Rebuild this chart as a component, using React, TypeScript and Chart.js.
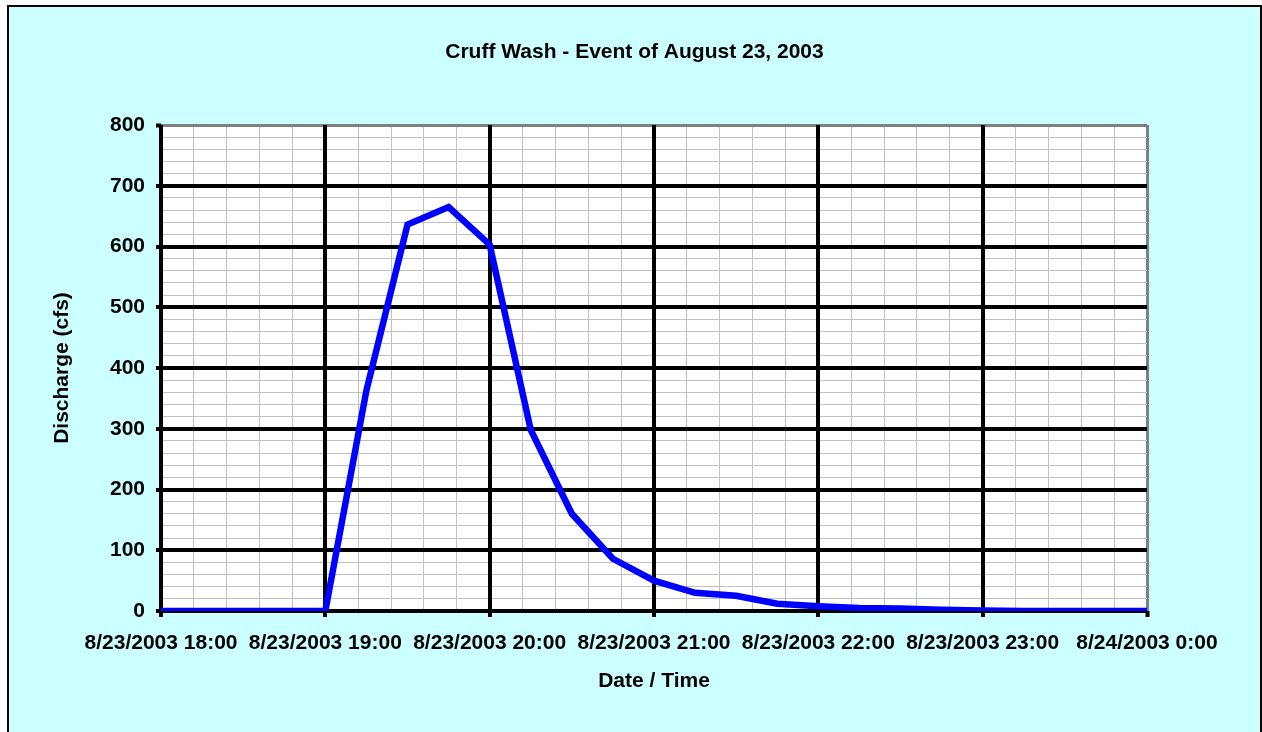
import React, { useEffect, useRef } from "react";
import { Chart, registerables } from "chart.js";

Chart.register(...registerables);

// ---- Data ----
const TIMESTAMPS = [
  "8/23/2003 18:00", "8/23/2003 18:15", "8/23/2003 18:30", "8/23/2003 18:45",
  "8/23/2003 19:00", "8/23/2003 19:15", "8/23/2003 19:30", "8/23/2003 19:45",
  "8/23/2003 20:00", "8/23/2003 20:15", "8/23/2003 20:30", "8/23/2003 20:45",
  "8/23/2003 21:00", "8/23/2003 21:15", "8/23/2003 21:30", "8/23/2003 21:45",
  "8/23/2003 22:00", "8/23/2003 22:15", "8/23/2003 22:30", "8/23/2003 22:45",
  "8/23/2003 23:00", "8/23/2003 23:15", "8/23/2003 23:30", "8/23/2003 23:45",
  "8/24/2003 0:00",
];
const DISCHARGE = [
  0, 0, 0, 0,
  0, 363, 636, 665,
  603, 298, 160, 86,
  50, 30, 25, 12,
  8, 5, 4, 2,
  1, 0, 0, 0,
  0,
];
const X_TICK_LABELS = [
  "8/23/2003 18:00", "8/23/2003 19:00", "8/23/2003 20:00", "8/23/2003 21:00",
  "8/23/2003 22:00", "8/23/2003 23:00", "8/24/2003 0:00",
];
const Y_TICK_LABELS = [0, 100, 200, 300, 400, 500, 600, 700, 800];

const TITLE = "Cruff Wash - Event of August 23, 2003";
const X_TITLE = "Date / Time";
const Y_TITLE = "Discharge (cfs)";

const FONT_FAMILY = '"Liberation Sans", Arial, Helvetica, sans-serif';

function toMinutes(ts: string): number {
  const [date, time] = ts.split(" ");
  const day = Number(date.split("/")[1]);
  const [h, m] = time.split(":").map(Number);
  return (day - 23) * 1440 + h * 60 + m;
}

const X_MAJOR = X_TICK_LABELS.map(toMinutes);
const X_MIN = X_MAJOR[0];
const X_MAX = X_MAJOR[X_MAJOR.length - 1];
const Y_MIN = Y_TICK_LABELS[0];
const Y_MAX = Y_TICK_LABELS[Y_TICK_LABELS.length - 1];

const framePlugin = {
  id: "frame",
  beforeDraw(chart: any) {
    const { ctx, chartArea } = chart;
    ctx.save();
    ctx.fillStyle = "#CCFFFF";
    ctx.fillRect(8, 6, 1253, 800);
    ctx.strokeStyle = "#000000";
    ctx.lineWidth = 2;
    ctx.strokeRect(8, 6, 1253, 800);
    ctx.fillStyle = "#FFFFFF";
    ctx.fillRect(chartArea.left, chartArea.top, chartArea.right - chartArea.left, chartArea.bottom - chartArea.top);
    ctx.fillStyle = "#000000";
    ctx.font = `bold 21px ${FONT_FAMILY}`;
    ctx.textAlign = "center";
    ctx.textBaseline = "middle";
    ctx.fillText(TITLE, 634.5, 52);
    ctx.restore();
  },
  // redraw the major grid lines above the minor ones
  beforeDatasetsDraw(chart: any) {
    const { ctx, chartArea, scales } = chart;
    ctx.save();
    ctx.strokeStyle = "#000000";
    ctx.lineWidth = 4;
    ctx.beginPath();
    X_MAJOR.forEach((v) => {
      if (v === X_MAX) return;
      const px = Math.round(scales.x.getPixelForValue(v));
      ctx.moveTo(px, chartArea.top);
      ctx.lineTo(px, chartArea.bottom + 2);
    });
    Y_TICK_LABELS.forEach((v) => {
      if (v === Y_MAX) return;
      const py = Math.round(scales.y.getPixelForValue(v));
      ctx.moveTo(chartArea.left - 2, py);
      ctx.lineTo(chartArea.right, py);
    });
    ctx.stroke();
    ctx.restore();
  },
};

export default function App() {
  const canvasRef = useRef<HTMLCanvasElement | null>(null);

  useEffect(() => {
    if (!canvasRef.current) return;
    const isMajorX = (v: number) => X_MAJOR.includes(v);
    const isMajorY = (v: number) => Y_TICK_LABELS.includes(v);
    const tickFont = { family: FONT_FAMILY, size: 21, weight: "bold" as const };

    const chart = new Chart(canvasRef.current, {
      type: "line",
      data: {
        datasets: [
          {
            label: "Discharge (cfs)",
            data: TIMESTAMPS.map((t, i) => ({ x: toMinutes(t), y: DISCHARGE[i] })),
            borderColor: "#0000FF",
            backgroundColor: "#0000FF",
            borderWidth: 6.5,
            pointRadius: 0,
            tension: 0,
            fill: false,
          },
        ],
      },
      options: {
        animation: false,
        responsive: false,
        devicePixelRatio: 1,
        layout: { padding: { top: 125, left: 0, right: 115, bottom: 0 } },
        plugins: {
          legend: { display: false },
          tooltip: { enabled: false },
          title: { display: false },
        },
        scales: {
          x: {
            type: "linear",
            min: X_MIN,
            max: X_MAX,
            afterFit: (s: any) => {
              s.height = 121;
            },
            border: { display: false },
            grid: {
              color: (c: any) => {
                const v = c.tick?.value;
                if (v === X_MAX) return "#808080";
                return isMajorX(v) ? "#000000" : "#C0C0C0";
              },
              lineWidth: (c: any) => {
                const v = c.tick?.value;
                if (v === X_MAX) return 3;
                return isMajorX(v) ? 4 : 1;
              },
              tickColor: (c: any) => (isMajorX(c.tick?.value) ? "#000000" : "rgba(0,0,0,0)"),
              tickWidth: (c: any) => (isMajorX(c.tick?.value) ? 4 : 1),
              tickLength: 6,
              drawTicks: true,
            },
            ticks: {
              stepSize: 12,
              autoSkip: false,
              maxRotation: 0,
              minRotation: 0,
              padding: 14,
              color: "#000000",
              font: tickFont,
              callback: (v: any) => {
                const i = X_MAJOR.indexOf(Number(v));
                return i >= 0 ? X_TICK_LABELS[i] : "";
              },
            },
            title: {
              display: true,
              text: X_TITLE,
              color: "#000000",
              font: tickFont,
              padding: { top: 0, bottom: 38.4 },
            },
          },
          y: {
            type: "linear",
            min: Y_MIN,
            max: Y_MAX,
            afterFit: (s: any) => {
              s.width = 161;
            },
            border: { display: false },
            grid: {
              color: (c: any) => {
                const v = c.tick?.value;
                if (v === Y_MAX) return "#808080";
                return isMajorY(v) ? "#000000" : "#C0C0C0";
              },
              lineWidth: (c: any) => {
                const v = c.tick?.value;
                if (v === Y_MAX) return 3;
                return isMajorY(v) ? 4 : 1;
              },
              tickColor: (c: any) => (isMajorY(c.tick?.value) ? "#000000" : "rgba(0,0,0,0)"),
              tickWidth: (c: any) => (isMajorY(c.tick?.value) ? 4 : 1),
              tickLength: 5,
              drawTicks: true,
            },
            ticks: {
              stepSize: 20,
              autoSkip: false,
              padding: 11,
              color: "#000000",
              font: tickFont,
              callback: (v: any) => (isMajorY(Number(v)) ? String(v) : ""),
            },
            title: {
              display: true,
              text: Y_TITLE,
              color: "#000000",
              font: tickFont,
              padding: { top: 49.4, bottom: 0 },
            },
          },
        },
      },
      plugins: [framePlugin],
    });

    return () => chart.destroy();
  }, []);

  return (
    <div style={{ position: "absolute", left: 0, top: 0, width: 1262, height: 732 }}>
      <canvas ref={canvasRef} width={1262} height={732} style={{ display: "block" }} />
    </div>
  );
}
